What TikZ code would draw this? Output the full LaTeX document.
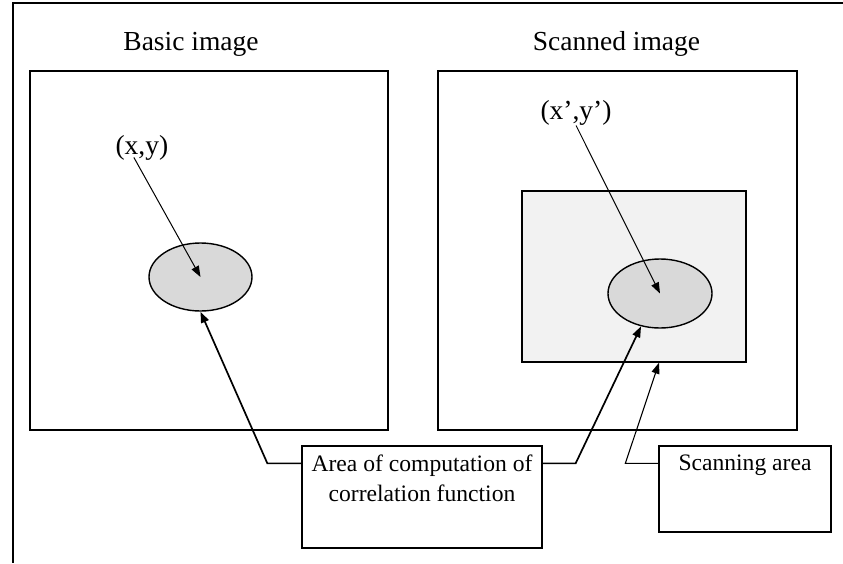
\documentclass[tikz,border=0pt]{standalone}
\usepackage{fontspec}
\setmainfont{Liberation Serif}
\usetikzlibrary{arrows.meta,positioning,shapes.geometric}

\begin{document}
\begin{tikzpicture}[x=1pt, y=-1pt, >={Triangle[length=11pt,width=8pt]}, line width=1.1pt]
\tikzstyle{imgbox}=[draw=black,rectangle,inner sep=0pt,line width=1.3pt]
\tikzstyle{spot}=[draw=black,ellipse,fill=black!15,inner sep=0pt,line width=1.4pt]
\tikzstyle{title}=[font=\fontsize{27.5}{30}\selectfont,inner sep=0pt]
\tikzstyle{note}=[draw=black,fill=white,rectangle,inner sep=0pt,line width=1.3pt]
\tikzstyle{notetext}=[font=\fontsize{23.6}{29.5}\selectfont,align=center,inner sep=0pt]
\tikzstyle{callout}=[->,line width=1.7pt]
\useasboundingbox (0,0) rectangle (843,563);
% frame
\draw[line width=1.3pt] (843,3) -- (13,3) -- (13,563);
% the two images
\node[imgbox, minimum width=358pt, minimum height=359pt] (basic)   at (209,250.5) {};
\node[imgbox, minimum width=359pt, minimum height=359pt] (scanned) at (617.5,250.5) {};
\node[imgbox, fill=black!5, minimum width=224pt, minimum height=171pt] (area) at (634,276.5) {};
\node[spot, minimum width=103pt, minimum height=68pt] (eb) at (200.5,277) {};
\node[spot, minimum width=104pt, minimum height=69pt] (es) at (660,293.5) {};
% titles
\node[title, anchor=base] (tb) at (191,50)  {Basic image};
\node[title, anchor=base] (ts) at (616.5,50) {Scanned image};
\node[title, anchor=base west] (xy)  at (115,154) {(x,y)};
\node[title, anchor=base west] (xy2) at (540,119) {(x’,y’)};
% notes
\node[note, minimum width=240pt, minimum height=102pt] (corr) at (422,497) {};
\node[notetext, below=9pt of corr.north] (corrtext) {Area of computation of\\correlation function};
\node[note, minimum width=172pt, minimum height=86pt] (scan) at (745,489) {};
\node[notetext, below=9pt of scan.north] (scantext) {Scanning area};
% arrows
\draw[->, line width=1pt] ([xshift=-8pt,yshift=3pt]xy.south) -- (eb.center);
\draw[->, line width=1pt] (xy2.south) -- (es.center);
\draw[callout] ([yshift=-18pt]corr.north west) -- ++(-34,0) -- (eb.south);
\draw[callout] ([yshift=-18pt]corr.north east) -- ++(33,0) -- (es.240);
\draw[->, line width=1.1pt] ([yshift=-18pt]scan.north west) -- ++(-33,0) -- ([xshift=25pt]area.south);
\end{tikzpicture}
\end{document}
